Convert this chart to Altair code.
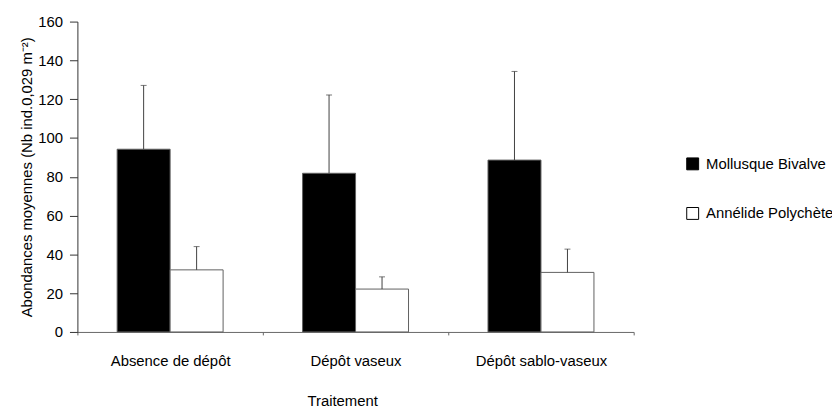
import altair as alt
import pandas as pd

categories = ["Absence de dépôt", "Dépôt vaseux", "Dépôt sablo-vaseux"]
series = ["Mollusque Bivalve", "Annélide Polychète"]
mollusque_mean = [94.2, 81.8, 88.6]
mollusque_err = [32.9, 40.4, 45.7]
annelide_mean = [32.0, 22.1, 30.7]
annelide_err = [12.0, 6.3, 12.0]
y_ticks = [0, 20, 40, 60, 80, 100, 120, 140, 160]

rows = []
for i, c in enumerate(categories):
    rows.append({"cat": c, "serie": series[0], "mean": mollusque_mean[i],
                 "upper": mollusque_mean[i] + mollusque_err[i]})
    rows.append({"cat": c, "serie": series[1], "mean": annelide_mean[i],
                 "upper": annelide_mean[i] + annelide_err[i]})
df = pd.DataFrame(rows)

FONT = "Liberation Sans"

x_axis = alt.Axis(
    title="Traitement", tickBand="extent", tickSize=3, labelAngle=0,
    labelBaseline="alphabetic", labelPadding=31, labelFontSize=15,
    titleFontSize=15, titleFontWeight="normal", titleX=267, titleY=74,
    titleBaseline="alphabetic", titleAlign="center",
    domainColor="#666666", tickColor="#666666", labelColor="black",
)
y_axis = alt.Axis(
    title="Abondances moyennes (Nb ind.0,029 m⁻²)", values=y_ticks,
    labelOverlap=False, labelFlush=False,
    grid=False, tickSize=8, labelPadding=7, labelFontSize=15,
    titleFontSize=15, titleFontWeight="normal", titleX=-46, titleY=156.5,
    titleBaseline="alphabetic", titleAngle=-90, titleAlign="center",
    domainColor="#333333", tickColor="#333333", labelColor="black",
)

x_scale = alt.Scale(paddingInner=0, paddingOuter=0)
y_scale = alt.Scale(domain=[0, 160], nice=False)
xoff = alt.XOffset("serie:N", sort=series, scale=alt.Scale(paddingOuter=0.75, paddingInner=0))

bars = alt.Chart(df).mark_bar(stroke="#606060", strokeWidth=1).encode(
    x=alt.X("cat:N", sort=categories, scale=x_scale, axis=x_axis),
    xOffset=xoff,
    y=alt.Y("mean:Q", scale=y_scale, axis=y_axis),
    fill=alt.Fill(
        "serie:N", sort=series,
        scale=alt.Scale(domain=series, range=["#000000", "#ffffff"]),
        legend=alt.Legend(
            title=None, orient="none", legendX=613, legendY=136,
            symbolType="square", symbolSize=144, symbolStrokeColor="black",
            symbolStrokeWidth=1, labelFontSize=15, labelOffset=6, rowPadding=33,
            labelColor="black", labelLimit=300,
        ),
    ),
)

err_rule = alt.Chart(df).mark_rule(color="#404040", strokeWidth=1).encode(
    x=alt.X("cat:N", sort=categories, scale=x_scale, axis=x_axis),
    xOffset=xoff,
    y=alt.Y("mean:Q", scale=y_scale, axis=y_axis),
    y2="upper:Q",
)

err_cap = alt.Chart(df).mark_tick(color="#404040", orient="horizontal", size=6, thickness=1).encode(
    x=alt.X("cat:N", sort=categories, scale=x_scale, axis=x_axis),
    xOffset=xoff,
    y=alt.Y("upper:Q", scale=y_scale, axis=y_axis),
)

chart = alt.layer(bars, err_rule, err_cap).properties(
    width=561, height=313,
    autosize=alt.AutoSizeParams(type="none"),
    padding={"left": 70, "top": 12, "right": 200, "bottom": 75},
    background="white",
).configure(font=FONT).configure_view(stroke=None)

chart.save("out.html", embed_options={"renderer": "svg", "actions": False})
